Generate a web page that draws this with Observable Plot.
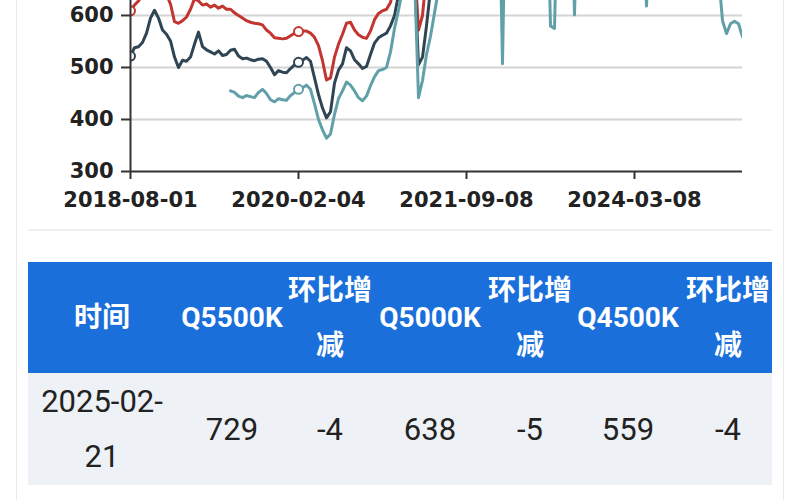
<!DOCTYPE html>
<html><head><meta charset="utf-8">
<script src="https://cdn.jsdelivr.net/npm/d3@7"></script>
<script src="https://cdn.jsdelivr.net/npm/@observablehq/plot@0.6"></script>
<style>
html,body{margin:0;padding:0;background:#fff;width:800px;height:500px;overflow:hidden;}
#wrap{position:relative;width:800px;height:500px;}
.card{position:absolute;left:16px;top:-10px;width:766px;height:520px;border-left:1px solid #ebebeb;border-right:1px solid #ebebeb;}
.sep{position:absolute;left:28px;top:229px;width:744px;height:2px;background:#f0f0f0;}
#chart{position:absolute;left:0;top:0;}
table{position:absolute;left:28px;top:262px;width:744px;border-collapse:collapse;table-layout:fixed;}
th{background:#1a6fdb;color:#fff;font-family:Roboto,"Noto Sans CJK SC",sans-serif;font-weight:bold;font-size:28px;line-height:55px;height:111px;padding:0;text-align:center;white-space:nowrap;}
td{background:#eef1f5;color:#222;font-family:Roboto,"Noto Sans CJK SC",sans-serif;font-size:31px;line-height:55px;height:112px;padding:0;text-align:center;white-space:nowrap;}
</style>
</head><body>
<div id="wrap"><div class="card"></div><div class="sep"></div><div id="chart"></div><table id="tbl"></table></div>
<script>
const seriesNames = ["Q5500K","Q5000K","Q4500K"];
const seriesColors = ["#c23531","#2f4554","#61a0a8"];
const tickIdx = [0,42,84,126];
const tickLabels = ["2018-08-01","2020-02-04","2021-09-08","2024-03-08"];
const yTicks = [300,400,500,600];

const q5500 = [609,620,628,640,660,680,690,675,655,640,622,588,585,590,597,612,632,628,620,622,
616,620,614,618,612,612,605,600,595,590,587,585,584,582,572,566,557,556,555,556,
561,566,569,570,570,566,558,542,513,476,480,520,545,564,585,587,572,563,558,556,
570,592,604,609,612,625,660,720,780,820,800,700,572,600,680,760,820,880,920,1000,
1100,1200,1300,1500,1700,1900,2100,2400,1900,1600,1300,1150,1100,1120,1150,1200,1250,1300,1350,1400,
1350,1300,1200,1150,1100,1080,1090,1100,1150,1120,1100,1080,1100,1080,1060,1040,1020,1000,980,960,
950,940,930,920,910,920,930,950,970,960,950,940,930,920,910,900,890,880,880,890,
900,890,880,870,860,860,870,840,810,790,775,760,745,729];

const q5000 = [522,538,540,548,566,595,610,595,572,564,551,520,500,514,512,520,545,568,540,534,
530,526,532,523,525,533,535,522,517,518,515,513,516,517,512,500,486,494,491,490,
498,505,510,514,519,512,480,448,422,403,415,470,495,507,538,532,515,507,498,502,
525,547,557,562,566,580,600,640,700,740,720,680,505,520,580,650,720,780,820,900,
1000,1100,1200,1400,1600,1800,2000,2200,1750,1450,1150,1050,1000,1020,1050,1100,1150,1200,1250,1300,
1250,1200,1100,1050,1000,980,990,1000,1050,1020,1000,980,1000,980,960,940,920,900,880,860,
850,840,830,820,810,820,830,850,870,860,850,840,830,820,810,800,790,780,780,790,
800,790,780,770,760,760,770,740,710,690,680,670,655,638];

const q4500 = [null,null,null,null,null,null,null,null,null,null,null,null,null,null,null,null,null,null,null,null,
null,null,null,null,null,455,452,445,442,446,444,442,452,458,450,438,434,440,438,437,
446,452,458,461,466,458,430,400,380,364,372,410,440,455,472,466,455,442,436,445,
465,482,494,496,500,530,575,610,650,700,720,680,442,475,525,560,605,650,720,800,
900,1000,1100,1300,1500,1700,1900,2000,1600,1300,1050,950,900,507,950,1000,1050,1100,1150,1200,
1150,1100,1000,950,900,580,575,900,950,920,900,601,900,880,860,840,820,800,780,770,
760,750,740,730,720,730,740,760,780,618,780,760,750,740,730,720,710,700,700,710,
720,710,700,690,680,690,700,680,590,565,584,589,584,559];

const tableHeaders = ["时间","Q5500K","环比增减","Q5000K","环比增减","Q4500K","环比增减"];
const tableRow = ["2025-02-21","729","-4","638","-5","559","-4"];
const colWidths = [148,112,84,116,84,112,88];

const rows = [];
[q5500,q5000,q4500].forEach((arr,k)=>arr.forEach((v,i)=>{ if(v!=null) rows.push({i, v, s: seriesNames[k]}); }));
const markers = rows.filter(d => tickIdx.includes(d.i));
const last = q5500.length - 1;

const chart = Plot.plot({
  width: 800, height: 240,
  marginTop: 0, marginLeft: 130, marginRight: 58, marginBottom: 69,
  x: {domain: [0, last]},
  y: {domain: [300, 628.8]},
  color: {domain: seriesNames, range: seriesColors},
  style: {fontFamily: "DejaVu Sans", fontSize: "21px", fontWeight: "bold", background: "transparent", overflow: "visible"},
  marks: [
    Plot.gridY(yTicks.slice(1), {stroke: "#d4d4d4", strokeOpacity: 1, strokeWidth: 2}),
    Plot.line(rows, {x: "i", y: "v", z: "s", stroke: "s", strokeWidth: 3, strokeLinejoin: "round", clip: true}),
    Plot.dot(markers, {x: "i", y: "v", stroke: "s", fill: "white", r: 4.5, strokeWidth: 2, clip: true}),
    Plot.ruleY([300], {stroke: "#333", strokeWidth: 2}),
    Plot.ruleX([0], {stroke: "#333", strokeWidth: 2}),
    Plot.axisY({ticks: yTicks, tickSize: 9, tickPadding: 8, stroke: "#333", strokeWidth: 2, fill: "#222", label: null}),
    Plot.axisX({ticks: tickIdx, tickFormat: d => tickLabels[tickIdx.indexOf(d)], tickSize: 8, tickPadding: 13, stroke: "#333", strokeWidth: 2, fill: "#222", label: null})
  ]
});
document.getElementById("chart").appendChild(chart);

const tbl = document.getElementById("tbl");
const cg = document.createElement("colgroup");
colWidths.forEach(w => { const c = document.createElement("col"); c.style.width = w + "px"; cg.appendChild(c); });
tbl.appendChild(cg);
const trh = document.createElement("tr");
tableHeaders.forEach(h => {
  const th = document.createElement("th");
  if (h.startsWith("环比")) { th.append(h.slice(0,3)); th.appendChild(document.createElement("br")); th.append(h.slice(3)); }
  else th.textContent = h;
  trh.appendChild(th);
});
tbl.appendChild(trh);
const trd = document.createElement("tr");
tableRow.forEach((v, k) => {
  const td = document.createElement("td");
  if (k === 0) { const p = v.lastIndexOf("-") + 1; td.append(v.slice(0,p)); td.appendChild(document.createElement("br")); td.append(v.slice(p)); }
  else td.textContent = v;
  trd.appendChild(td);
});
tbl.appendChild(trd);
</script>
</body></html>
